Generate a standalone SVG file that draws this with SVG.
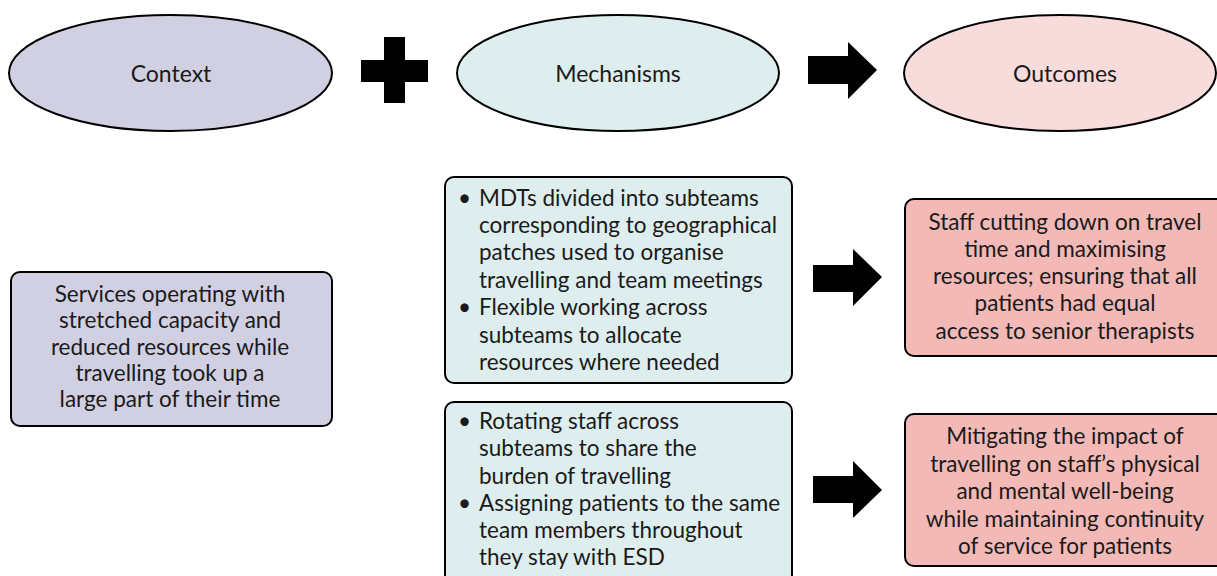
<svg xmlns="http://www.w3.org/2000/svg" width="1217" height="576" viewBox="0 0 1217 576">
<style>
text{font-family:Lato,"Liberation Sans",sans-serif;fill:#1a1a1a}
.e{font-size:23px;text-anchor:middle}
.t{font-size:22.5px}
.c{text-anchor:middle}
.ol{stroke:#000;stroke-width:2}
.ctx{fill:#d1d0e2}
.mech{fill:#deedee}
.outE{fill:#f8dcdb}
.outB{fill:#f2b9b6}
.sym{fill:#000}
</style>
<g id="ellipse-context"><ellipse class="ol ctx" cx="170.5" cy="73" rx="161.5" ry="58"/><text class="e" x="171" y="82">Context</text></g>
<g id="ellipse-mechanisms"><ellipse class="ol mech" cx="618" cy="73" rx="161" ry="58"/><text class="e" x="618" y="82">Mechanisms</text></g>
<g id="ellipse-outcomes"><ellipse class="ol outE" cx="1060" cy="73" rx="156" ry="58"/><text class="e" x="1065" y="82">Outcomes</text></g>
<g id="connectors">
<path class="sym" d="M384,37H405V60H428V82H405V103H384V82H361V60H384Z"/>
<path class="sym" d="M808,56H848V42L877,70L848,99V84H808Z"/>
<path class="sym" d="M813,265H853V249L882,277L853,306V292H813Z"/>
<path class="sym" d="M813,476H853V461L882,490L853,518V503H813Z"/>
</g>
<g id="box-context"><rect class="ol ctx" x="11" y="272" width="321" height="154" rx="9"/>
<text class="t c"><tspan x="170" y="302">Services operating with</tspan><tspan x="170" y="328">stretched capacity and</tspan><tspan x="170" y="354.5">reduced resources while</tspan><tspan x="170" y="380.5">travelling took up a</tspan><tspan x="170" y="407">large part of their time</tspan></text></g>
<g id="box-mech1"><rect class="ol mech" x="445" y="177" width="347" height="206" rx="9"/>
<text class="t"><tspan x="458" y="205.5">•</tspan><tspan x="479" y="205.5">MDTs divided into subteams</tspan><tspan x="479" y="233">corresponding to geographical</tspan><tspan x="479" y="260">patches used to organise</tspan><tspan x="479" y="288">travelling and team meetings</tspan><tspan x="458" y="315">•</tspan><tspan x="479" y="315">Flexible working across</tspan><tspan x="479" y="342.5">subteams to allocate</tspan><tspan x="479" y="370">resources where needed</tspan></text></g>
<g id="box-mech2"><rect class="ol mech" x="445" y="402" width="347" height="185" rx="9"/>
<text class="t"><tspan x="458" y="429">•</tspan><tspan x="479" y="429">Rotating staff across</tspan><tspan x="479" y="456">subteams to share the</tspan><tspan x="479" y="483.5">burden of travelling</tspan><tspan x="458" y="511">•</tspan><tspan x="479" y="511">Assigning patients to the same</tspan><tspan x="479" y="538">team members throughout</tspan><tspan x="479" y="565">they stay with ESD</tspan></text></g>
<g id="box-out1"><rect class="ol outB" x="905" y="199" width="330" height="157" rx="9"/>
<text class="t c"><tspan x="1065" y="230">Staff cutting down on travel</tspan><tspan x="1065" y="257">time and maximising</tspan><tspan x="1065" y="284">resources; ensuring that all</tspan><tspan x="1065" y="311">patients had equal</tspan><tspan x="1065" y="338.5">access to senior therapists</tspan></text></g>
<g id="box-out2"><rect class="ol outB" x="905" y="414" width="330" height="152" rx="9"/>
<text class="t c"><tspan x="1065" y="444">Mitigating the impact of</tspan><tspan x="1065" y="471.5">travelling on staff’s physical</tspan><tspan x="1065" y="499">and mental well-being</tspan><tspan x="1065" y="526.5">while maintaining continuity</tspan><tspan x="1065" y="554">of service for patients</tspan></text></g>
</svg>
